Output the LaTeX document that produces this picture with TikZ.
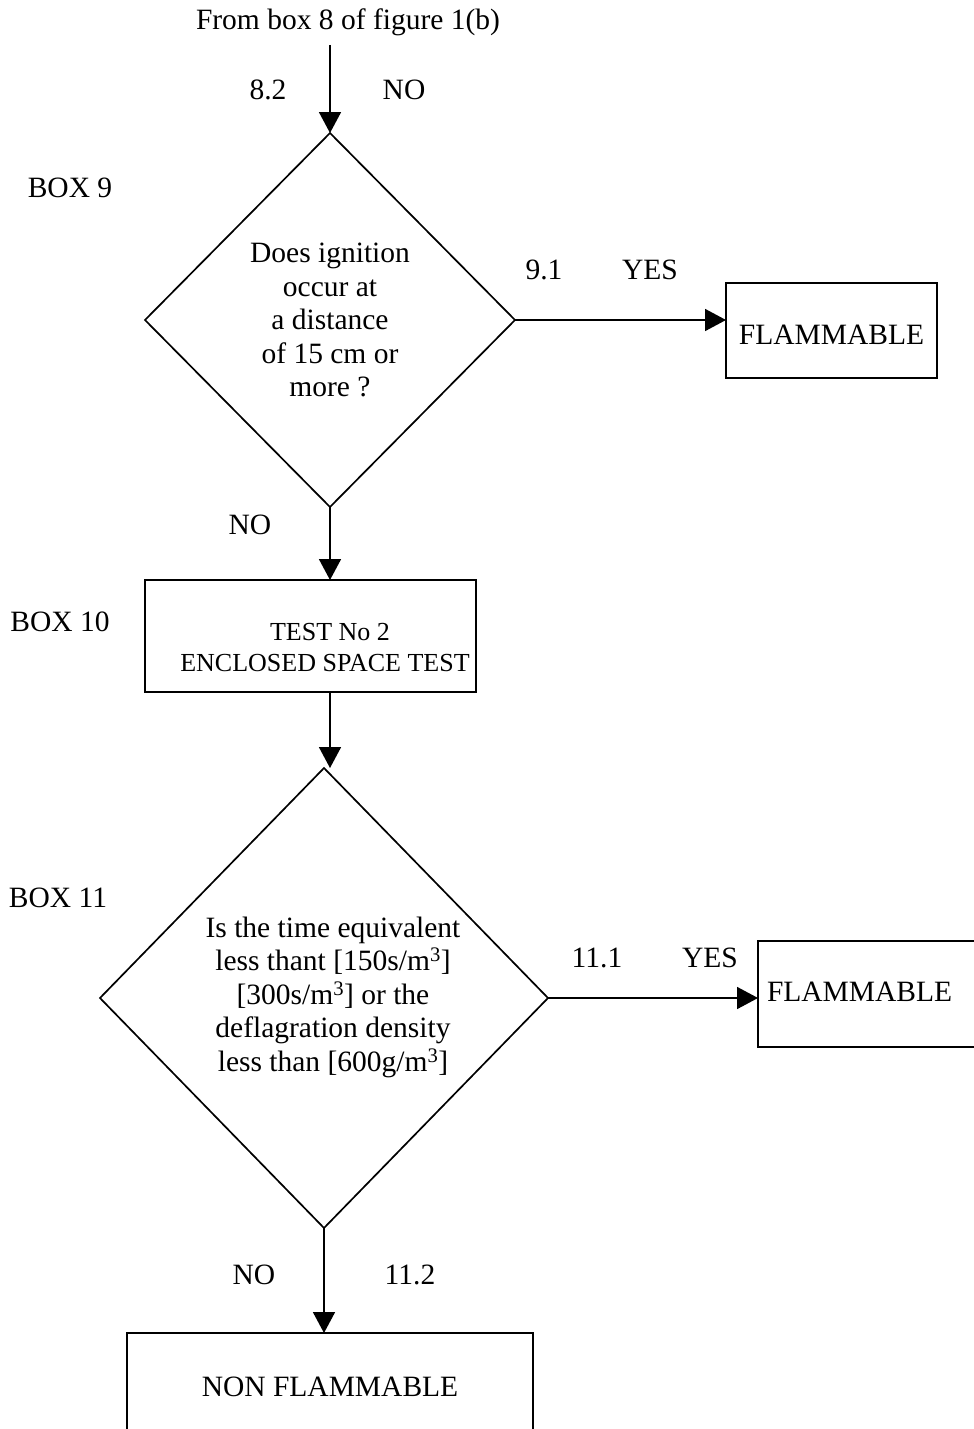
\documentclass[tikz,border=0pt]{standalone}
\usepackage{fontspec}
\setmainfont{Liberation Serif}
\usetikzlibrary{arrows.meta,shapes.geometric}
\begin{document}
\begin{tikzpicture}[x=1pt,y=-1pt,
  every node/.style={inner sep=0pt,outer sep=0pt},
  txt/.style={font=\fontsize{29.5}{33.5}\selectfont,align=center},
  smalltxt/.style={font=\fontsize{26}{31}\selectfont,align=center},
  dia/.style={draw,line width=1.7pt,shape=diamond,minimum width=#1},
  box/.style={draw,line width=1.7pt,rectangle},
  arr/.style={line width=1.7pt,-{Triangle[length=21pt,width=22pt]}}]
\clip (0,0) rectangle (974,1429);

% title
\node[txt] (from) at (348,22) {From box 8 of figure 1(b)};
\coordinate (start) at (330,45);

% diamond 1
\node[dia=370pt,minimum height=374pt] (d1) at (330,320) {};
\node[txt] (d1t) at (330,320) {Does ignition\\occur at\\a distance\\of 15 cm or\\more ?};
\node[txt] (l82) at (268,90) {8.2};
\node[txt] (lno1) at (404,90) {NO};
\node[txt] (box9) at (70,188) {BOX 9};

% flammable 1
\node[box,minimum width=211pt,minimum height=95pt] (fl1) at (831.5,330.5) {};
\node[txt] (fl1t) at (831.5,335) {FLAMMABLE};
\node[txt] (l91) at (544,270) {9.1};
\node[txt] (lyes1) at (650,270) {YES};

% box 10
\node[txt] (lno2) at (250,525) {NO};
\node[box,minimum width=331pt,minimum height=112pt] (b10) at (310.5,636) {};
\node[smalltxt] (b10a) at (330,632) {TEST No 2};
\node[smalltxt] (b10b) at (325,663) {ENCLOSED SPACE TEST};
\node[txt] (box10) at (60,622) {BOX 10};

% diamond 2
\node[dia=448pt,minimum height=460pt] (d2) at (324,998) {};
\node[txt] (d2t) at (333,997) {Is the time equivalent\\less thant [150s/m\textsuperscript{3}]\\{}[300s/m\textsuperscript{3}] or the\\deflagration density\\less than [600g/m\textsuperscript{3}]};
\node[txt] (box11) at (58,898) {BOX 11};
\node[txt] (l111) at (597,958) {11.1};
\node[txt] (lyes2) at (710,958) {YES};

% flammable 2
\node[box,minimum width=232pt,minimum height=106pt] (fl2) at (874,994) {};
\node[txt,anchor=west] (fl2t) at (767,992) {FLAMMABLE};

% non flammable
\node[txt] (lno3) at (254,1275) {NO};
\node[txt] (l112) at (410,1275) {11.2};
\node[box,minimum width=406pt,minimum height=127pt] (nf) at (330,1396.5) {};
\node[txt] (nft) at (330,1387) {NON FLAMMABLE};

% connectors
\draw[arr] (start) -- (d1.north);
\draw[arr] (d1.east) -- (d1.east -| fl1.west);
\draw[arr] (d1.south) -- (d1.south |- b10.north);
\draw[arr] (b10.south -| 330,0) -- (330,0 |- d2.north);
\draw[arr] (d2.east) -- (d2.east -| fl2.west);
\draw[arr] (d2.south) -- (d2.south |- nf.north);
\end{tikzpicture}
\end{document}
